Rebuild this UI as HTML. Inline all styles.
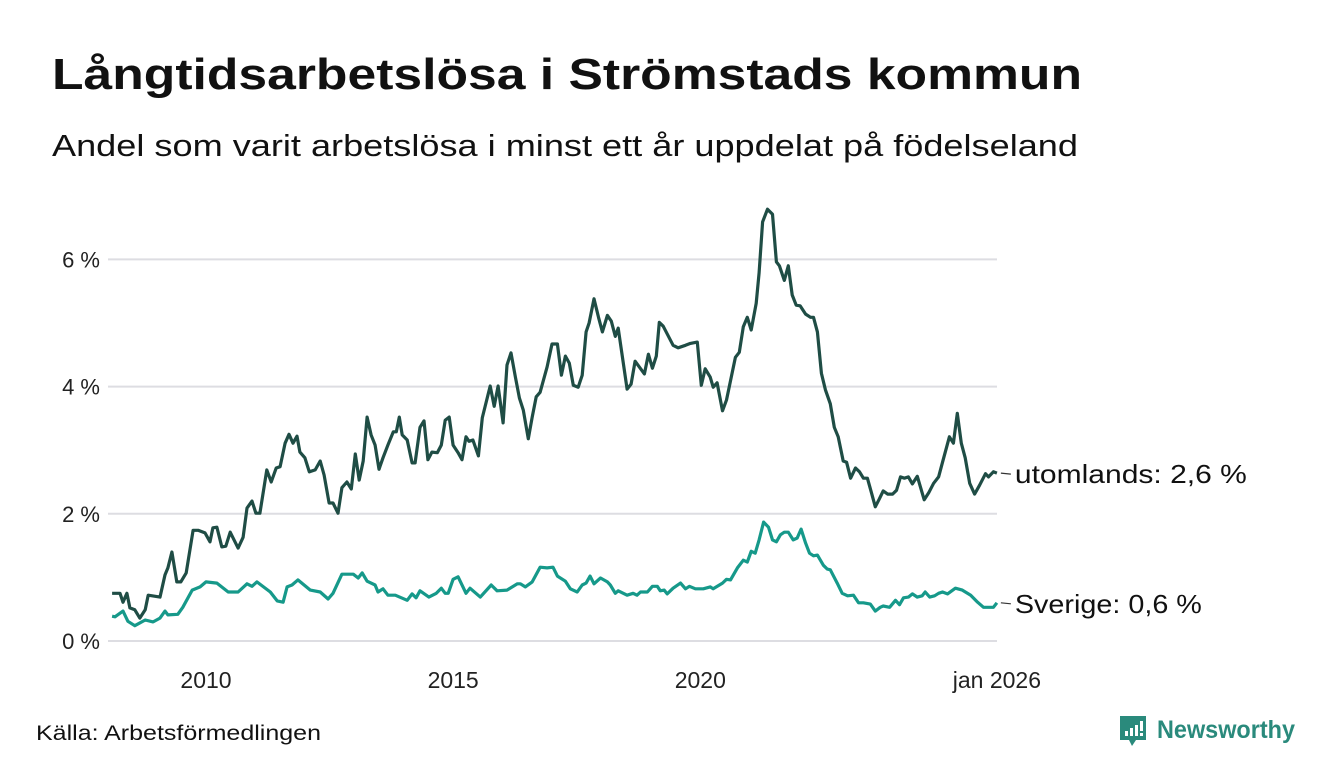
<!DOCTYPE html>
<html><head><meta charset="utf-8">
<style>
body{margin:0;background:#fff;}
svg{display:block;font-family:"Liberation Sans","DejaVu Sans",sans-serif;}
</style></head>
<body>
<svg id="chart" width="1340" height="780" viewBox="0 0 1340 780">
<text x="52" y="89" font-size="44" font-weight="bold" fill="#111" textLength="1030" lengthAdjust="spacingAndGlyphs">Långtidsarbetslösa i Strömstads kommun</text>
<text x="52" y="156" font-size="31" fill="#111" textLength="1026" lengthAdjust="spacingAndGlyphs">Andel som varit arbetslösa i minst ett år uppdelat på födelseland</text>
<g id="grid"></g>
<g id="series"></g>
<g id="labels"></g>
<text x="36" y="740" font-size="21" fill="#111" textLength="285" lengthAdjust="spacingAndGlyphs">Källa: Arbetsförmedlingen</text>
<g>
<path d="M1120 716 h26 v24 h-10 l-4 6 l-3 -6 h-9 z" fill="#2a8a7c"/>
<rect x="1125" y="731" width="3" height="5" fill="#fff"/><rect x="1130" y="728" width="3" height="8" fill="#fff"/><rect x="1135" y="725" width="3" height="11" fill="#fff"/><rect x="1140" y="721" width="3" height="10" fill="#fff"/><rect x="1140" y="733" width="3" height="3" fill="#fff"/>
<text x="1157" y="738" font-size="25" font-weight="bold" fill="#2a8a7c" textLength="138" lengthAdjust="spacingAndGlyphs">Newsworthy</text>
</g>
</svg>
<script>
const yTicks=[0,2,4,6];
const yTickLabels=["0 %","2 %","4 %","6 %"];
const xTicks=[2010,2015,2020,2026];
const xTickLabels=["2010","2015","2020","jan 2026"];
const utomYears=[2008.10,2008.26,2008.32,2008.40,2008.46,2008.56,2008.66,2008.77,2008.83,2009.07,2009.17,2009.23,2009.31,2009.41,2009.49,2009.60,2009.74,2009.84,2009.98,2010.08,2010.14,2010.22,2010.32,2010.40,2010.49,2010.65,2010.75,2010.83,2010.93,2011.01,2011.09,2011.23,2011.32,2011.42,2011.50,2011.60,2011.68,2011.76,2011.84,2011.90,2012.00,2012.09,2012.21,2012.31,2012.39,2012.49,2012.57,2012.67,2012.75,2012.85,2012.94,2013.02,2013.10,2013.18,2013.26,2013.34,2013.42,2013.50,2013.58,2013.68,2013.79,2013.85,2013.91,2013.97,2014.07,2014.17,2014.23,2014.33,2014.41,2014.49,2014.57,2014.68,2014.76,2014.84,2014.92,2015.00,2015.10,2015.18,2015.26,2015.32,2015.40,2015.51,2015.59,2015.75,2015.83,2015.91,2016.01,2016.09,2016.17,2016.26,2016.34,2016.42,2016.52,2016.60,2016.68,2016.76,2016.90,2017.00,2017.11,2017.19,2017.27,2017.35,2017.43,2017.53,2017.61,2017.69,2017.75,2017.85,2017.94,2018.02,2018.12,2018.20,2018.28,2018.34,2018.52,2018.60,2018.68,2018.87,2018.95,2019.03,2019.11,2019.17,2019.25,2019.45,2019.55,2019.70,2019.80,2019.94,2020.02,2020.10,2020.20,2020.26,2020.34,2020.45,2020.53,2020.71,2020.79,2020.87,2020.95,2021.03,2021.13,2021.19,2021.26,2021.36,2021.46,2021.54,2021.60,2021.70,2021.78,2021.86,2021.94,2022.02,2022.13,2022.23,2022.29,2022.37,2022.45,2022.53,2022.63,2022.71,2022.79,2022.89,2022.96,2023.04,2023.14,2023.22,2023.30,2023.38,2023.46,2023.54,2023.62,2023.70,2023.79,2023.89,2023.97,2024.05,2024.13,2024.21,2024.29,2024.39,2024.53,2024.62,2024.72,2024.82,2024.90,2025.04,2025.12,2025.20,2025.28,2025.36,2025.45,2025.55,2025.65,2025.77,2025.83,2025.93,2026.00];
const utomValues=[0.75,0.75,0.61,0.75,0.52,0.49,0.36,0.49,0.72,0.69,1.04,1.15,1.40,0.93,0.93,1.07,1.74,1.74,1.70,1.56,1.78,1.79,1.48,1.49,1.71,1.46,1.63,2.09,2.20,2.01,2.01,2.69,2.50,2.72,2.74,3.11,3.25,3.11,3.22,2.97,2.88,2.66,2.69,2.83,2.61,2.17,2.17,2.01,2.41,2.50,2.39,2.94,2.53,2.83,3.52,3.24,3.08,2.70,2.88,3.08,3.29,3.29,3.52,3.24,3.16,2.80,2.80,3.36,3.46,2.85,2.97,2.96,3.08,3.47,3.52,3.08,2.96,2.85,3.21,3.14,3.16,2.91,3.51,4.01,3.69,4.01,3.43,4.34,4.53,4.15,3.82,3.63,3.18,3.52,3.84,3.91,4.31,4.67,4.67,4.18,4.48,4.37,4.02,3.99,4.18,4.86,5.00,5.38,5.09,4.86,5.12,5.03,4.79,4.92,3.96,4.04,4.40,4.20,4.51,4.29,4.48,5.01,4.95,4.65,4.61,4.65,4.68,4.70,4.02,4.28,4.15,3.99,4.06,3.62,3.79,4.46,4.54,4.94,5.09,4.89,5.31,5.79,6.59,6.79,6.71,5.96,5.90,5.67,5.90,5.44,5.28,5.27,5.14,5.09,5.09,4.86,4.21,3.95,3.73,3.36,3.21,2.83,2.81,2.56,2.72,2.66,2.56,2.56,2.34,2.11,2.23,2.36,2.31,2.31,2.37,2.58,2.56,2.58,2.47,2.59,2.22,2.33,2.48,2.58,2.81,3.21,3.11,3.58,3.11,2.88,2.48,2.31,2.45,2.63,2.58,2.66,2.64];
const sveYears=[2008.10,2008.16,2008.32,2008.42,2008.56,2008.77,2008.93,2009.07,2009.17,2009.23,2009.43,2009.53,2009.72,2009.88,2010.00,2010.22,2010.45,2010.65,2010.83,2010.93,2011.03,2011.30,2011.44,2011.56,2011.64,2011.74,2011.86,2012.11,2012.31,2012.47,2012.57,2012.75,2012.98,2013.08,2013.16,2013.26,2013.42,2013.48,2013.58,2013.68,2013.83,2014.07,2014.17,2014.25,2014.33,2014.51,2014.66,2014.76,2014.84,2014.90,2015.00,2015.10,2015.26,2015.34,2015.55,2015.77,2015.89,2016.09,2016.30,2016.36,2016.46,2016.60,2016.76,2016.90,2017.02,2017.11,2017.27,2017.37,2017.51,2017.61,2017.69,2017.77,2017.85,2017.98,2018.12,2018.18,2018.28,2018.34,2018.52,2018.64,2018.72,2018.79,2018.93,2019.03,2019.13,2019.19,2019.27,2019.33,2019.45,2019.60,2019.70,2019.78,2019.90,2020.06,2020.20,2020.26,2020.45,2020.53,2020.61,2020.75,2020.87,2020.95,2021.03,2021.11,2021.19,2021.28,2021.38,2021.46,2021.54,2021.62,2021.70,2021.78,2021.88,2021.96,2022.04,2022.13,2022.21,2022.29,2022.37,2022.49,2022.57,2022.63,2022.77,2022.87,2022.98,2023.10,2023.20,2023.30,2023.44,2023.54,2023.64,2023.70,2023.83,2023.95,2024.03,2024.11,2024.21,2024.29,2024.39,2024.49,2024.55,2024.64,2024.74,2024.82,2024.90,2025.00,2025.16,2025.30,2025.47,2025.61,2025.73,2025.93,2026.00];
const sveValues=[0.39,0.38,0.47,0.31,0.24,0.33,0.30,0.36,0.47,0.41,0.42,0.53,0.80,0.85,0.93,0.91,0.77,0.77,0.90,0.86,0.93,0.77,0.63,0.61,0.85,0.88,0.96,0.80,0.77,0.66,0.75,1.05,1.05,0.99,1.07,0.94,0.88,0.77,0.82,0.72,0.72,0.64,0.74,0.68,0.79,0.69,0.75,0.83,0.75,0.75,0.97,1.01,0.75,0.83,0.69,0.88,0.79,0.80,0.90,0.90,0.85,0.93,1.16,1.15,1.16,1.02,0.94,0.82,0.77,0.88,0.91,1.02,0.90,0.99,0.93,0.88,0.75,0.79,0.72,0.75,0.72,0.77,0.77,0.86,0.86,0.79,0.80,0.74,0.83,0.91,0.82,0.86,0.82,0.82,0.85,0.82,0.91,0.97,0.96,1.15,1.27,1.24,1.41,1.38,1.59,1.87,1.79,1.59,1.56,1.67,1.71,1.71,1.59,1.62,1.76,1.54,1.38,1.34,1.35,1.19,1.13,1.12,0.91,0.75,0.71,0.72,0.60,0.60,0.58,0.47,0.53,0.55,0.53,0.64,0.57,0.68,0.69,0.74,0.69,0.71,0.77,0.69,0.71,0.75,0.77,0.74,0.83,0.80,0.72,0.61,0.53,0.53,0.60];
const seriesNames=["utomlands","Sverige"];

const NS="http://www.w3.org/2000/svg";
const X0=108,X1=997;
function xs(yr){return 206+(yr-2010)*49.43;}
function ys(v){return 641-v*63.6;}
function mk(tag,attrs,parent){const e=document.createElementNS(NS,tag);for(const k in attrs)e.setAttribute(k,attrs[k]);parent.appendChild(e);return e;}
const grid=document.getElementById('grid');
yTicks.forEach((t,i)=>{
  const l=mk('line',{x1:X0,x2:X1,y1:ys(t),y2:ys(t),stroke:'#dddde2','stroke-width':2},grid);
  
  
  const tx=mk('text',{x:100,y:ys(t)+8,'text-anchor':'end','font-size':22,fill:'#222'},grid);
  tx.textContent=yTickLabels[i];
  
  
});
xTicks.forEach((t,i)=>{
  const tx=mk('text',{x:xs(t),y:688,'text-anchor':'middle','font-size':23,fill:'#222'},grid);
  tx.textContent=xTickLabels[i];
  
  
});
const ser=document.getElementById('series');
function line(xsArr,vals,color,name){
  const d=xsArr.map((y,i)=>(i?'L':'M')+xs(y).toFixed(1)+' '+ys(vals[i]).toFixed(1)).join(' ');
  const p=mk('path',{d:d,fill:'none',stroke:color,'stroke-width':3.2,'stroke-linejoin':'round'},ser);
  
  
}
line(sveYears,sveValues,'#16998a','line-sverige');
line(utomYears,utomValues,'#1f4d45','line-utomlands');
const lab=document.getElementById('labels');
function endLabel(yr,v,txt,name,len){
  const x=xs(yr),y=ys(v);
  const l=mk('line',{x1:x+4,x2:x+14,y1:y,y2:y+1,stroke:'#333','stroke-width':1.2},lab);
  
  
  const t=mk('text',{x:x+18,y:y+10,'font-size':26,fill:'#111',textLength:len,lengthAdjust:'spacingAndGlyphs'},lab);
  t.textContent=txt;
  
  
}
endLabel(utomYears[utomYears.length-1],utomValues[utomValues.length-1],seriesNames[0]+": 2,6 %",'label-utomlands',232);
endLabel(sveYears[sveYears.length-1],sveValues[sveValues.length-1],seriesNames[1]+": 0,6 %",'label-sverige',187);
</script>
</body></html>
